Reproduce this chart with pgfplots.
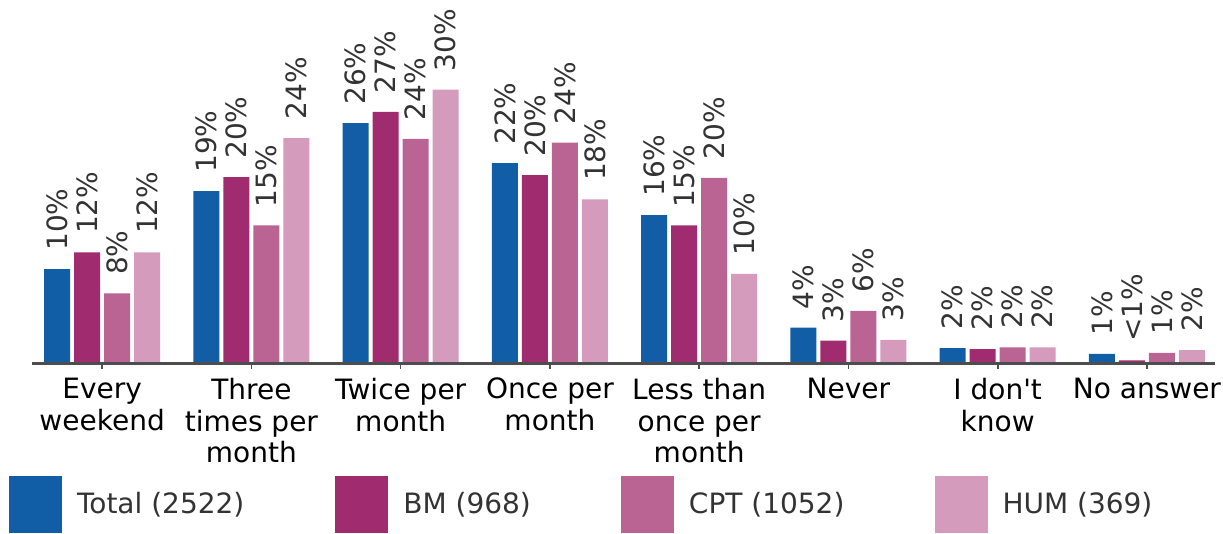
\documentclass[border=0pt]{standalone}
\usepackage{fontspec}
\setmainfont{DejaVu Sans}[Ligatures=TeXOff]
\usepackage{pgfplots}
\pgfplotsset{compat=1.18}
\definecolor{cTotal}{HTML}{115EA7}
\definecolor{cBM}{HTML}{A02B6E}
\definecolor{cCPT}{HTML}{BA6494}
\definecolor{cHUM}{HTML}{D49BBC}
\definecolor{lgrey}{HTML}{333333}
\definecolor{agrey}{HTML}{4D4D4D}
\begin{document}
\begin{tikzpicture}
\begin{axis}[name=ax,
  width=591.5pt, height=182pt, scale only axis,
  xmin=-0.47, xmax=7.456, ymin=0, ymax=39.14,
  ybar=2pt, bar width=13pt,
  axis on top, clip=false,
  axis x line=bottom, axis y line=none,
  x axis line style={agrey, line width=1.5pt, -},
  ytick=\empty,
  xtick={0,1,2,3,4,5,6,7},
  xticklabels={{Every\\weekend},{Three\\times per\\month},{Twice per\\month},{Once per\\month},{Less than\\once per\\month},{Never},{I don't\\know},{No answer}},
  xticklabel style={font=\fontsize{14}{15.85}\selectfont, align=center, text=black, yshift=-1pt},
  tick align=outside, major tick length=2.5pt,
  xtick style={agrey, line width=0.8pt},
  point meta=explicit symbolic,
  nodes near coords={\pgfplotspointmeta\%},
  every node near coord/.append style={rotate=90, anchor=west, inner xsep=9pt, text=lgrey, font=\fontsize{14}{16}\selectfont},
  legend columns=4,
  legend style={at={(0,0)}, anchor=west, xshift=-11.5pt, yshift=-70.25pt, draw=none, fill=none, inner sep=0pt, outer sep=0pt, column sep=7.5pt, nodes={inner sep=0pt, text=lgrey, font=\fontsize{14}{16}\selectfont, anchor=west}},
  legend image code/.code={\fill[#1, draw=none] (0pt,-14.25pt) rectangle (26.5pt,14.25pt);},
]
\addplot[fill=cTotal, draw=none] coordinates {(0,10.2) [10] (1,18.6) [19] (2,25.9) [26] (3,21.6) [22] (4,16.0) [16] (5,3.9) [4] (6,1.7) [2] (7,1.1) [1]};
\addlegendentry{Total (2522)\makebox[38pt]{}}
\addplot[fill=cBM, draw=none] coordinates {(0,12.0) [12] (1,20.1) [20] (2,27.1) [27] (3,20.3) [20] (4,14.9) [15] (5,2.5) [3] (6,1.6) [2] (7,0.4) [<1]};
\addlegendentry{BM (968)\makebox[37.5pt]{}}
\addplot[fill=cCPT, draw=none] coordinates {(0,7.6) [8] (1,14.9) [15] (2,24.2) [24] (3,23.8) [24] (4,20.0) [20] (5,5.7) [6] (6,1.8) [2] (7,1.2) [1]};
\addlegendentry{CPT (1052)\makebox[37.5pt]{}}
\addplot[fill=cHUM, draw=none] coordinates {(0,12.0) [12] (1,24.3) [24] (2,29.5) [30] (3,17.7) [18] (4,9.7) [10] (5,2.6) [3] (6,1.8) [2] (7,1.5) [2]};
\addlegendentry{HUM (369)}
\end{axis}
\pgfresetboundingbox
\path ([shift={(-16pt,-85pt)}]ax.south west) rectangle ([shift={(4pt,0pt)}]ax.north east);
\end{tikzpicture}
\end{document}
